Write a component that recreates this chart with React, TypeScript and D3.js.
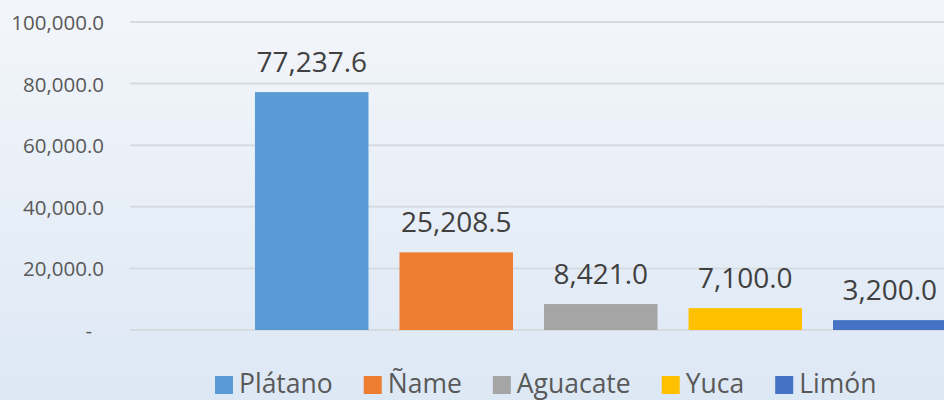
import React from 'react';
import { useEffect, useRef } from 'react';
import * as d3 from 'd3';

// chart data
const crops = ["Plátano", "Ñame", "Aguacate", "Yuca", "Limón"];
const values = [77237.6, 25208.5, 8421.0, 7100.0, 3200.0];
const colors = ["#5b9bd5", "#ed7d31", "#a5a5a5", "#ffc000", "#4472c4"];
const yTicks = [0, 20000, 40000, 60000, 80000, 100000];

function BarChart() {
    const svgNode = useRef<SVGSVGElement>(null);
    const width = 944;
    const height = 400;
    const font = "'Open Sans', 'Liberation Sans', sans-serif";

    useEffect(() => {
        const svg = d3.select(svgNode.current);
        svg.selectAll("*").remove();

        //Background gradient
        const grad = svg.append("defs").append("linearGradient")
            .attr("id", "bg").attr("x1", 0).attr("y1", 0).attr("x2", 0).attr("y2", 1);
        grad.append("stop").attr("offset", "0%").attr("stop-color", "#f3f6fa");
        grad.append("stop").attr("offset", "100%").attr("stop-color", "#dde8f5");
        svg.append("rect").attr("width", width).attr("height", height).attr("fill", "url(#bg)");

        //scales
        const y = d3.scaleLinear().domain([0, 100000]).range([330, 22]);
        const x = d3.scaleBand<string>()
            .domain(crops)
            .range([239.5, 962])
            .paddingInner(0.2145)
            .paddingOuter(0.107);

        //Gridlines
        svg.append("g")
            .selectAll("line")
            .data(yTicks)
            .join("line")
            .attr("x1", 130)
            .attr("x2", width)
            .attr("y1", d => y(d))
            .attr("y2", d => y(d))
            .attr("stroke", "#d6dbe1")
            .attr("stroke-width", 2);

        //Y labels
        const fmt = d3.format(",.1f");
        svg.append("g")
            .selectAll("text")
            .data(yTicks)
            .join("text")
            .attr("x", d => d === 0 ? 92 : 104)
            .attr("y", d => y(d) + 8)
            .attr("text-anchor", "end")
            .attr("font-family", font)
            .attr("font-size", 20.5)
            .attr("fill", "#595959")
            .text(d => d === 0 ? "-" : fmt(d));

        //Bars
        svg.append("g")
            .selectAll("rect")
            .data(crops)
            .join("rect")
            .attr("x", d => x(d) as number)
            .attr("width", x.bandwidth())
            .attr("y", (d, i) => y(values[i]))
            .attr("height", (d, i) => y(0) - y(values[i]))
            .attr("fill", (d, i) => colors[i]);

        //Data labels
        svg.append("g")
            .selectAll("text")
            .data(crops)
            .join("text")
            .attr("x", d => (x(d) as number) + x.bandwidth() / 2)
            .attr("y", (d, i) => y(values[i]) - 20)
            .attr("text-anchor", "middle")
            .attr("font-family", font)
            .attr("font-size", 28)
            .attr("fill", "#404040")
            .text((d, i) => fmt(values[i]));

        //Legend
        const legend = svg.append("g");
        let lx = 215;
        crops.forEach((c, i) => {
            legend.append("rect")
                .attr("x", lx).attr("y", 376)
                .attr("width", 18).attr("height", 18)
                .attr("fill", colors[i]);
            const t = legend.append("text")
                .attr("x", lx + 24).attr("y", 393)
                .attr("font-family", font)
                .attr("font-size", 26.5)
                .attr("fill", "#595959")
                .text(c);
            const w = (t.node() as SVGTextElement).getComputedTextLength();
            lx += 24 + w + 31;
        });
    }, []);

    return (
        <svg ref={svgNode} width={width} height={height} style={{ display: "block" }}></svg>
    );
}

export default function App() {
    return (
        <div style={{ position: "absolute", left: 0, top: 0 }}>
            <BarChart />
        </div>
    );
}
